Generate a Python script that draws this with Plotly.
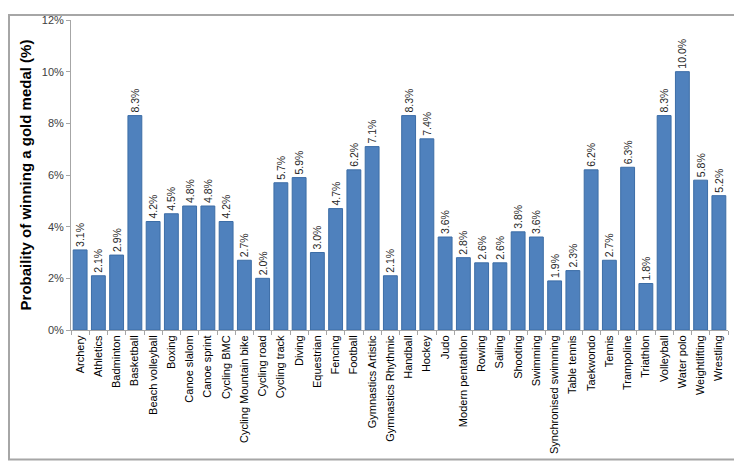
import plotly.graph_objects as go

sports = ["Archery", "Athletics", "Badminton", "Basketball", "Beach volleyball", "Boxing",
          "Canoe slalom", "Canoe sprint", "Cycling BMC", "Cycling Mountain bike", "Cycling road",
          "Cycling track", "Diving", "Equestrian", "Fencing", "Football", "Gymnastics Artistic",
          "Gymnastics Rhythmic", "Handball", "Hockey", "Judo", "Modern pentathlon", "Rowing",
          "Sailing", "Shooting", "Swimming", "Synchronised swimming", "Table tennis", "Taekwondo",
          "Tennis", "Trampoline", "Triathlon", "Volleyball", "Water polo", "Weightlifting", "Wrestling"]
probability = [3.1, 2.1, 2.9, 8.3, 4.2, 4.5, 4.8, 4.8, 4.2, 2.7, 2.0, 5.7, 5.9, 3.0, 4.7, 6.2, 7.1,
               2.1, 8.3, 7.4, 3.6, 2.8, 2.6, 2.6, 3.8, 3.6, 1.9, 2.3, 6.2, 2.7, 6.3, 1.8, 8.3, 10.0,
               5.8, 5.2]
y_ticks = [0, 2, 4, 6, 8, 10, 12]
y_ticktext = ["0%", "2%", "4%", "6%", "8%", "10%", "12%"]

# page body has an 8px margin, so the figure is sized/offset to compensate
W, H = 734, 456
L, R, T, B = 63, 14, 6, 134
pw, ph = W - L - R, H - T - B

fig = go.Figure(go.Bar(
    x=sports, y=probability,
    marker=dict(color="#4F81BD", line=dict(color="#3C6DA6", width=1)),
    text=probability, texttemplate="%{y:.1f}%", textposition="outside", textangle=-90,
    constraintext="none",
    textfont=dict(family="Liberation Sans", size=10.5, color="#262626"),
    cliponaxis=False,
))

fig.update_layout(
    width=W, height=H,
    margin=dict(l=L, r=R, t=T, b=B),
    paper_bgcolor="white", plot_bgcolor="white",
    bargap=0.24,
    showlegend=False,
    font=dict(family="Liberation Sans", size=11, color="#262626"),
    xaxis=dict(
        tickangle=-90, tickson="boundaries", ticks="outside", ticklen=4, tickcolor="#A6A6A6",
        showline=True, linecolor="#A6A6A6", linewidth=1, showgrid=False,
        tickfont=dict(family="Liberation Sans", size=11, color="#000000"),
    ),
    yaxis=dict(
        range=[0, 12], tickvals=y_ticks, ticktext=y_ticktext, ticks="outside", ticklen=4,
        tickcolor="#A6A6A6", showline=True, linecolor="#A6A6A6", linewidth=1, showgrid=False,
        zeroline=False, ticklabeloverflow="allow",
        tickfont=dict(family="Liberation Sans", size=11, color="#404040"),
        title=dict(text="<b>Probaility of winning a gold medal (%)</b>",
                   font=dict(family="Liberation Sans", size=15, color="#000000"), standoff=6),
    ),
    shapes=[dict(type="rect", xref="paper", yref="paper", layer="above",
                 x0=-(L - 1) / pw, x1=1 + (R - 2) / pw,
                 y0=-(B - 2) / ph, y1=1 + (T - 1) / ph,
                 line=dict(color="#A6A6A6", width=2))],
)

fig.write_html("out.html")
